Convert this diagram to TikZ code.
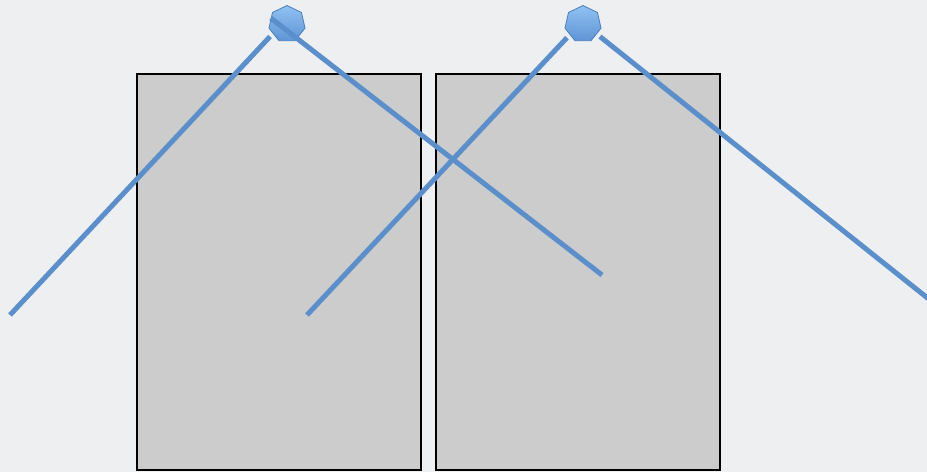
\documentclass[tikz,border=0pt]{standalone}
\usetikzlibrary{shapes.geometric}

\definecolor{sfondo}{HTML}{EEEFF1}
\definecolor{grigiopannello}{HTML}{CCCCCC}
\definecolor{bluraggio}{HTML}{5B8FCB}
\definecolor{bluchiaro}{HTML}{92C1F2}
\definecolor{bluscuro}{HTML}{5E95D6}
\definecolor{bordosorgente}{HTML}{4A7EBB}

\begin{document}
\begin{tikzpicture}[
  x=1pt, y=-1pt,
  pannello/.style={draw=black, fill=grigiopannello, line width=2.8pt},
  sorgente/.style={regular polygon, regular polygon sides=7,
                   minimum size=37pt, inner sep=0pt,
                   draw=bordosorgente, line width=0.8pt,
                   top color=bluchiaro, bottom color=bluscuro},
  raggio/.style={draw=bluraggio, line width=5pt, shorten <=4pt}
]

%--------------------------------------------------------------
% Sfondo e dimensioni dell'immagine
%--------------------------------------------------------------
\path[use as bounding box, fill=sfondo] (0,0) rectangle (927,472);

%--------------------------------------------------------------
% Pannelli grigi
%--------------------------------------------------------------
\draw[pannello] (137,74) rectangle (421,470);
\draw[pannello] (436,74) rectangle (720,470);

%--------------------------------------------------------------
% Sorgenti e estremi liberi dei raggi
%--------------------------------------------------------------
\node[sorgente] (srcA) at (287,24) {};
\node[sorgente] (srcB) at (583,24) {};

\coordinate (fineA1) at (10,315);
\coordinate (fineA2) at (602,275);
\coordinate (fineB1) at (307,315);
\coordinate (fineB2) at (940,308);

%--------------------------------------------------------------
% Raggi
%--------------------------------------------------------------
\draw[raggio] (srcA.214) -- (fineA1);
\draw[raggio, shorten <=0pt] (srcA.160) -- (fineA2);
\draw[raggio] (srcB.219) -- (fineB1);
\draw[raggio] (srcB.-36) -- (fineB2);

\end{tikzpicture}
\end{document}
